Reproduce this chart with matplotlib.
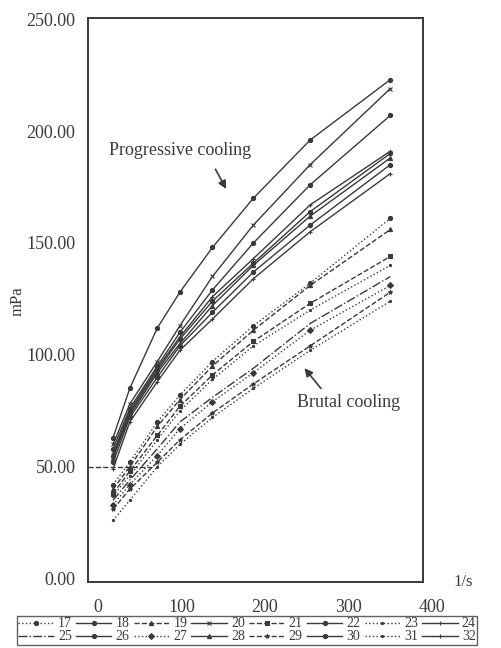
import matplotlib
matplotlib.use('Agg')
import matplotlib.pyplot as plt
import matplotlib.transforms as mtransforms

# Shear rates (1/s) and viscosities (mPa.s)
shear_rate = [18, 38, 71, 98, 137, 186, 254, 350]

# progressive cooling (solid lines, even numbers)
s18 = [63, 85, 112, 128, 148, 170, 196, 223]
s20 = [60, 78, 97, 113, 135, 158, 185, 219]
s22 = [58, 76, 95, 110, 129, 150, 176, 207]
s24 = [56, 75, 94, 108, 126, 143, 167, 191]
s26 = [55, 74, 93, 107, 124, 141, 164, 190]
s28 = [54, 73, 92, 105, 122, 140, 162, 188]
s30 = [52, 72, 90, 104, 119, 137, 158, 185]
s32 = [49, 70, 88, 102, 116, 134, 155, 181]

# brutal cooling (dashed / dotted lines, odd numbers)
s17 = [42, 52, 70, 82, 97, 113, 132, 161]
s19 = [40, 50, 68, 80, 95, 111, 131, 156]
s21 = [38, 48, 64, 77, 91, 106, 123, 144]
s23 = [37, 46, 62, 75, 89, 104, 120, 140]
s25 = [35, 44, 58, 70, 81, 94, 114, 135]
s27 = [33, 42, 55, 67, 79, 92, 111, 131]
s29 = [31, 40, 52, 62, 74, 87, 104, 128]
s31 = [26, 35, 50, 60, 72, 85, 102, 124]

series = {
    '17': s17, '18': s18, '19': s19, '20': s20, '21': s21, '22': s22,
    '23': s23, '24': s24, '25': s25, '26': s26, '27': s27, '28': s28,
    '29': s29, '30': s30, '31': s31, '32': s32,
}

# line style and marker for each run (as in the original legend)
styles = {
    '17': (':', 'o'), '18': ('-', 'o'), '19': ('--', '^'), '20': ('-', 'x'),
    '21': ('--', 's'), '22': ('-', 'o'), '23': (':', '.'), '24': ('-', '+'),
    '25': ('-.', None), '26': ('-', 'o'), '27': (':', 'D'), '28': ('-', '^'),
    '29': ('--', '*'), '30': ('-', 'o'), '31': (':', '.'), '32': ('-', '+'),
}

y_ticks = [0, 50, 100, 150, 200, 250]
x_ticks = [0, 100, 200, 300, 400]

col = '#3a3a3a'
plt.rcParams['font.family'] = ['Liberation Serif', 'DejaVu Serif']

fig = plt.figure(figsize=(5.02, 6.48), dpi=100)
ax = fig.add_axes([0.1753, 0.1019, 0.6673, 0.8703])

handles = {}
for name, vals in series.items():
    ls, mk = styles[name]
    line, = ax.plot(shear_rate, vals, linestyle=ls, marker=mk, color=col,
                    linewidth=1.0, markersize=3, markeredgewidth=0.8,
                    label=name)
    handles[name] = line

# short reference line at 50 mPa
ax.plot([-12, 66], [50, 50], color=col, linewidth=1.0, linestyle='--')

ax.set_xlim(-12, 389)
ax.set_ylim(-1.5, 250.5)
ax.set_xticks([])
ax.set_yticks(y_ticks)
ax.set_yticklabels([f'{v:.2f}' for v in y_ticks], fontsize=13, color=col)
ax.tick_params(axis='y', length=0, pad=9)
for sp in ax.spines.values():
    sp.set_color(col)
    sp.set_linewidth(1.4)

# x tick labels sit well below the frame, 400 lies outside it
trans = mtransforms.blended_transform_factory(ax.transData, ax.transAxes)
for xv in x_ticks:
    ax.text(xv, -0.045, str(xv), transform=trans, ha='center', va='center',
            fontsize=13, color=col, clip_on=False)

ax.text(1.12, 0.0, '1/s', transform=ax.transAxes, ha='center', va='center',
        fontsize=12, color=col)
fig.text(0.036, 0.535, 'mPa', rotation=90, ha='center', va='center',
         fontsize=12, color=col)

ax.text(13, 191.5, 'Progressive cooling', fontsize=13, color=col,
        ha='left', va='center')
ax.annotate('', xy=(155, 173), xytext=(139, 184),
            arrowprops=dict(arrowstyle='-|>', color=col, lw=1.2,
                            mutation_scale=12))
ax.text(238, 78.5, 'Brutal cooling', fontsize=13, color=col,
        ha='left', va='center')
ax.annotate('', xy=(245, 95), xytext=(269, 84),
            arrowprops=dict(arrowstyle='-|>', color=col, lw=1.2,
                            mutation_scale=12))

# legend fills column by column, so interleave to get rows 17-24 / 25-32
top_row = ['17', '18', '19', '20', '21', '22', '23', '24']
bottom_row = ['25', '26', '27', '28', '29', '30', '31', '32']
order = [n for pair in zip(top_row, bottom_row) for n in pair]

leg = fig.legend([handles[n] for n in order], order,
                 loc='upper left', bbox_to_anchor=(0.034, 1 - 616 / 648),
                 ncol=8, fontsize=10, frameon=True, fancybox=False,
                 edgecolor=col, handlelength=2.55, handletextpad=0.3,
                 columnspacing=0.3, borderpad=0.1, labelspacing=0.0,
                 borderaxespad=0)
leg.get_frame().set_linewidth(1.0)
for t in leg.get_texts():
    t.set_color(col)

fig.savefig('out.png', dpi=100)
